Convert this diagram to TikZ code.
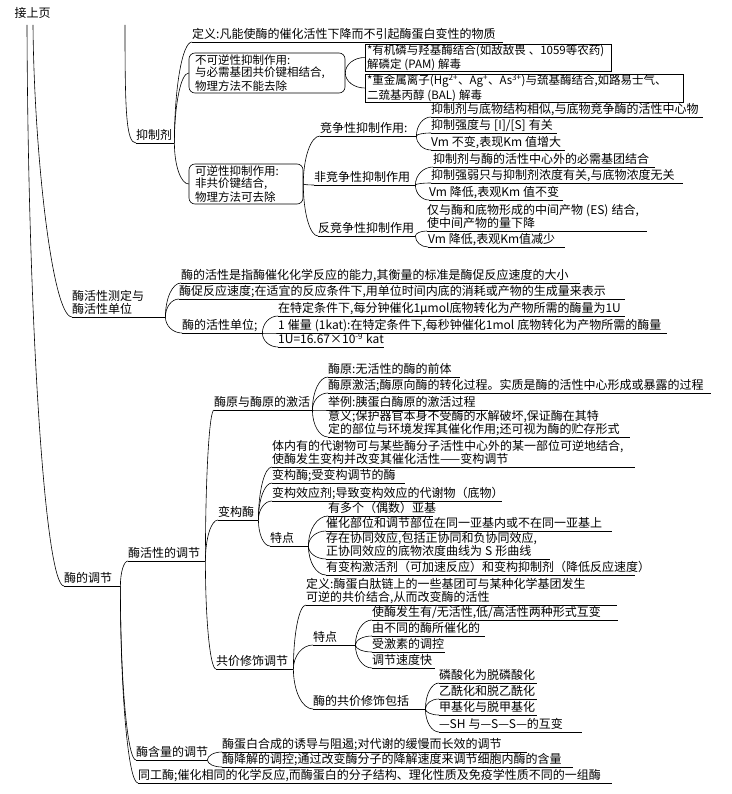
\documentclass[tikz,border=0pt]{standalone}
\usepackage{fontspec}
\newfontfamily\cjk{Noto Sans CJK SC}
\usetikzlibrary{calc}
\newcommand\mystrut{\rule[-2pt]{0pt}{12.5pt}}
\newcommand\mystart{\spaceskip=3pt plus 1pt\mystrut}
\begin{document}
\begin{tikzpicture}[x=1pt,y=-1pt,
  every node/.style={font=\cjk\fontsize{12}{13.5}\selectfont, text=black},
  ln/.style={line width=0.6pt, draw=black},
  ul/.style={anchor=south west, inner xsep=0pt, inner ysep=1pt, align=left, text width=#1pt,
    execute at begin node=\mystart, execute at end node=\mystrut},
  bx/.style={draw, line width=0.6pt, align=left, inner xsep=2pt, inner ysep=0pt,
    font=\cjk\fontsize{11.5}{12.5}\selectfont,
    execute at begin node=\mystart, execute at end node=\mystrut},
  qe/.style={to path={.. controls ($(\tikztostart)!0.55!(\tikztostart|-\tikztotarget)$) and ($(\tikztotarget)!0.55!(\tikztostart|-\tikztotarget)$) .. (\tikztotarget)}}
]
\useasboundingbox (0,0) rectangle (731,794);

\node[anchor=west] (top) at (11,13) {接上页};
\coordinate (tA) at (27,25);
\coordinate (tB) at (33,25);
\coordinate (tC) at (125,25);

% ---------- 抑制剂 ----------
\node[ul=38] (yzj) at (136,143) {抑制剂};
\node[ul=311] (dy) at (192,42) {定义:凡能使酶的催化活性下降而不引起酶蛋白变性的物质};
\node[bx, rounded corners=6pt, inner xsep=6pt, text width=144pt, minimum height=40pt] (irr) at (267,73)
  {不可逆性抑制作用:\\与必需基团共价键相结合,\\物理方法不能去除};
\node[bx, text width=242pt, minimum height=27pt] (o1) at (488,57.5)
  {*有机磷与羟基酶结合(如敌敌畏~、1059等农药)\\解磷定~(PAM)~解毒};
\node[bx, text width=314pt, minimum height=28pt] (o2) at (524,88)
  {*重金属离子(Hg\textsuperscript{2+}、Ag\textsuperscript{+}、As\textsuperscript{3+})与巯基酶结合,如路易士气、\\二巯基丙醇~(BAL)~解毒};
\node[bx, rounded corners=6pt, inner xsep=6pt, text width=102pt, minimum height=40pt] (rev) at (246,184)
  {可逆性抑制作用:\\非共价键结合,\\物理方法可去除};

\node[ul=96] (comp) at (320,136) {竞争性抑制作用:};
\node[ul=272] (c1) at (431,117) {抑制剂与底物结构相似,与底物竞争酶的活性中心物};
\node[ul=126] (c2) at (431,133) {抑制强度与 [I]/[S] 有关};
\node[ul=134] (c3) at (431,150) {Vm 不变,表现Km 值增大};

\node[ul=101] (nonc) at (314,185) {非竞争性抑制作用};
\node[ul=222] (n1) at (433,167) {抑制剂与酶的活性中心外的必需基团结合};
\node[ul=252] (n2) at (431,183) {抑制强弱只与抑制剂浓度有关,与底物浓度无关};
\node[ul=134] (n3) at (429,200) {Vm 降低,表观Km 值不变};

\node[ul=97] (unc) at (318,236) {反竞争性抑制作用};
\node[ul=220] (u1) at (427,231) {仅与酶和底物形成的中间产物~(ES)~结合,\\使中间产物的量下降};
\node[ul=137] (u2) at (428,247) {Vm 降低,表观Km值减少};

% ---------- 酶活性测定 ----------
\node[ul=93] (act) at (72,317) {酶活性测定与\\酶活性单位};
\node[ul=399] (a1) at (181,283) {酶的活性是指酶催化化学反应的能力,其衡量的标准是酶促反应速度的大小};
\node[ul=446] (a2) at (179,299) {酶促反应速度;在适宜的反应条件下,用单位时间内底的消耗或产物的生成量来表示};
\node[ul=80] (a3) at (182,333) {酶的活性单位;};
\node[ul=347] (b1) at (278,316) {在特定条件下,每分钟催化1μmol底物转化为产物所需的酶量为1U};
\node[ul=389] (b2) at (278,333) {1~催量~(1kat):在特定条件下,每秒钟催化1mol~底物转化为产物所需的酶量};
\node[ul=106] (b3) at (278,347) {1U=16.67×10\textsuperscript{-9}~kat};

% ---------- 酶的调节 ----------
\node[ul=56] (reg) at (64,586) {酶的调节};
\node[ul=77] (r1) at (128,561) {酶活性的调节};
\node[ul=71] (r2) at (136,760) {酶含量的调节};
\node[ul=474] (r3) at (138,783) {同工酶;催化相同的化学反应,而酶蛋白的分子结构、理化性质及免疫学性质不同的一组酶};

\node[ul=98] (zyg) at (214,410) {酶原与酶原的激活};
\node[ul=132] (z1) at (328,377) {酶原:无活性的酶的前体};
\node[ul=383] (z2) at (328,393) {酶原激活;酶原向酶的转化过程。实质是酶的活性中心形成或暴露的过程};
\node[ul=160] (z3) at (328,410) {举例:胰蛋白酶原的激活过程};
\node[ul=302] (z4) at (328,437) {意义;保护器官本身不受酶的水解破坏,保证酶在其特\\定的部位与环境发挥其催化作用;还可视为酶的贮存形式};

\node[ul=40] (gj) at (218,520) {变构酶};
\node[ul=363] (g1) at (272,467) {体内有的代谢物可与某些酶分子活性中心外的某一部位可逆地结合,\\使酶发生变构并改变其催化活性——变构调节};
\node[ul=133] (g2) at (272,483) {变构酶;受变构调节的酶};
\node[ul=230] (g3) at (272,501) {变构效应剂;导致变构效应的代谢物（底物）};
\node[ul=38] (tz1) at (270,546) {特点};
\node[ul=105] (t1) at (328,516) {有多个（偶数）亚基};
\node[ul=286] (t2) at (326,531) {催化部位和调节部位在同一亚基内或不在同一亚基上};
\node[ul=224] (t3) at (326,559) {存在协同效应,包括正协同和负协同效应,\\正协同效应的底物浓度曲线为~S~形曲线};
\node[ul=309] (t4) at (326,575) {有变构激活剂（可加速反应）和变构抑制剂（降低反应速度）};

\node[ul=77] (cov) at (216,669) {共价修饰调节};
\node[ul=311] (v1) at (306,605) {定义:酶蛋白肽链上的一些基团可与某种化学基团发生\\可逆的共价结合,从而改变酶的活性};
\node[ul=42] (tz2) at (313,645) {特点};
\node[ul=112] (v2) at (313,709) {酶的共价修饰包括};
\node[ul=246] (w1) at (372,620) {使酶发生有/无活性,低/高活性两种形式互变};
\node[ul=113] (w2) at (372,636) {由不同的酶所催化的};
\node[ul=73] (w3) at (372,652) {受激素的调控};
\node[ul=63] (w4) at (372,668) {调节速度快};
\node[ul=98] (x1) at (439,683) {磷酸化为脱磷酸化};
\node[ul=98] (x2) at (439,699) {乙酰化和脱乙酰化};
\node[ul=98] (x3) at (439,715) {甲基化与脱甲基化};
\node[ul=143] (x4) at (439,732) {—SH~与—S—S—的互变};

\node[ul=305] (m1) at (222,752) {酶蛋白合成的诱导与阻遏;对代谢的缓慢而长效的调节};
\node[ul=351] (m2) at (222,767) {酶降解的调控;通过改变酶分子的降解速度来调节细胞内酶的含量};

% ---------- underlines ----------
\foreach \n in {yzj,dy,comp,c1,c2,c3,nonc,n1,n2,n3,unc,u1,u2,act,a1,a2,a3,b1,b2,b3,
  reg,r1,r2,r3,zyg,z1,z2,z3,z4,gj,g1,g2,g3,tz1,t1,t2,t3,t4,cov,v1,tz2,v2,
  w1,w2,w3,w4,x1,x2,x3,x4,m1,m2}
  \draw[ln] (\n.south west) -- (\n.south east);

% ---------- trunk lines ----------
\draw[ln] (tA) .. controls (28,320) and (45,586) .. (reg.south west);
\draw[ln] (tB) .. controls (34,150) and (52,317) .. (act.south west);
\draw[ln] (tC) .. controls (125,110) and (126,143) .. (yzj.south west);

% ---------- brackets ----------
\foreach \a/\b in {yzj.south east/dy.south west, yzj.south east/irr.west, yzj.south east/rev.west,
  irr.east/o1.west, irr.east/o2.west,
  rev.east/comp.south west, rev.east/nonc.south west, rev.east/unc.south west,
  comp.south east/c1.south west, comp.south east/c2.south west, comp.south east/c3.south west,
  nonc.south east/n1.south west, nonc.south east/n2.south west, nonc.south east/n3.south west,
  unc.south east/u1.south west, unc.south east/u2.south west,
  act.south east/a1.south west, act.south east/a2.south west, act.south east/a3.south west,
  a3.south east/b1.south west, a3.south east/b2.south west, a3.south east/b3.south west,
  reg.south east/r1.south west, reg.south east/r2.south west, reg.south east/r3.south west,
  r1.south east/zyg.south west, r1.south east/gj.south west, r1.south east/cov.south west,
  zyg.south east/z1.south west, zyg.south east/z2.south west, zyg.south east/z3.south west, zyg.south east/z4.south west,
  gj.south east/g1.south west, gj.south east/g2.south west, gj.south east/g3.south west, gj.south east/tz1.south west,
  tz1.south east/t1.south west, tz1.south east/t2.south west, tz1.south east/t3.south west, tz1.south east/t4.south west,
  cov.south east/v1.south west, cov.south east/tz2.south west, cov.south east/v2.south west,
  tz2.south east/w1.south west, tz2.south east/w2.south west, tz2.south east/w3.south west, tz2.south east/w4.south west,
  v2.south east/x1.south west, v2.south east/x2.south west, v2.south east/x3.south west, v2.south east/x4.south west,
  r2.south east/m1.south west, r2.south east/m2.south west}
  \draw[ln] (\a) to[qe] (\b);
\end{tikzpicture}
\end{document}
